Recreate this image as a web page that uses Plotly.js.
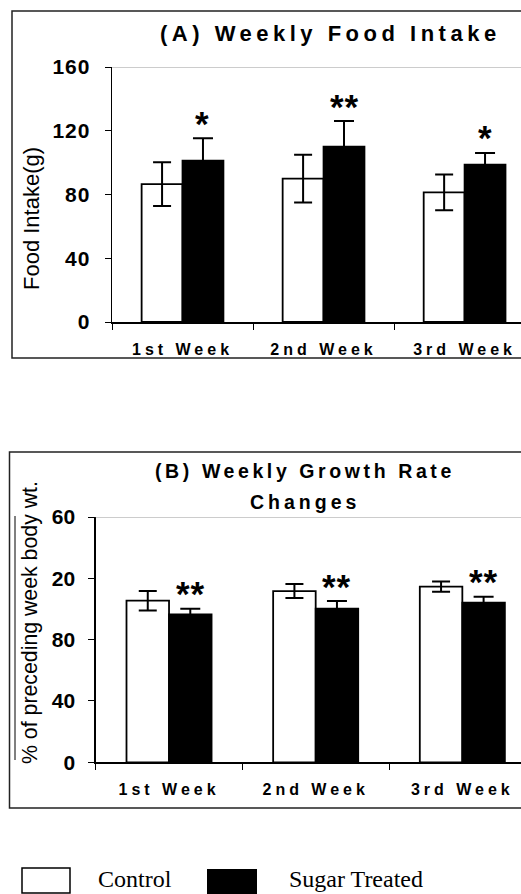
<!DOCTYPE html>
<html>
<head>
<meta charset="utf-8">
<script src="https://cdn.plot.ly/plotly-3.0.1.min.js"></script>
<style>
html,body{margin:0;padding:0;background:#fff;}
#chart{width:521px;height:894px;}
#chart .ytick text{letter-spacing:1px;}
</style>
</head>
<body>
<div id="chart"></div>
<script>
// ---- data ----
const categories = ['1st Week', '2nd Week', '3rd Week'];
const seriesNames = ['Control', 'Sugar Treated'];

const foodControl = [86.5, 90.0, 81.3];
const foodControlErr = [13.7, 15.0, 11.2];
const foodSugar = [101.3, 110.1, 98.8];
const foodSugarErr = [14.0, 16.0, 7.3];
const foodSig = ['*', '**', '*'];

const growthControl = [105.4, 111.7, 114.6];
const growthControlErr = [6.4, 4.6, 3.3];
const growthSugar = [96.5, 100.2, 104.1];
const growthSugarErr = [3.6, 5.0, 3.9];
const growthSig = ['**', '**', '**'];

const yTickVals = [0, 40, 80, 120, 160];
const foodTickText = ['0', '40', '80', '120', '160'];
const growthTickText = ['0', '40', '80', '20', '60'];

const titleA = '(A) Weekly Food Intake';
const titleB1 = '(B) Weekly Growth Rate';
const titleB2 = 'Changes';
const yTitleA = 'Food Intake(g)';
const yTitleB = '% of preceding week body wt.';

// ---- helpers ----
const W = 521, H = 894;
const px = v => v / W;
const py = v => 1 - v / H;
const sp = (t, s) => '<span style="letter-spacing:' + s + 'px">' + t + '</span>';

const BARGAP = 0.42;
const half = (1 - BARGAP) / 4;

const sans = 'Liberation Sans, Arial, sans-serif';
const serif = 'Liberation Serif, Times New Roman, serif';

function barTrace(y, err, fill, xa, ya, name, capw) {
  return {
    type: 'bar', x: categories, y: y, name: name, xaxis: xa, yaxis: ya,
    marker: {color: fill, line: {color: '#000', width: 1.8}},
    error_y: {type: 'data', array: err, visible: true, color: '#000', thickness: 2, width: capw},
    showlegend: false, hoverinfo: 'skip'
  };
}

const data = [
  barTrace(foodControl, foodControlErr, '#fff', 'x', 'y', seriesNames[0], 9),
  barTrace(foodSugar, foodSugarErr, '#000', 'x', 'y', seriesNames[1], 10),
  barTrace(growthControl, growthControlErr, '#fff', 'x2', 'y2', seriesNames[0], 9),
  barTrace(growthSugar, growthSugarErr, '#000', 'x2', 'y2', seriesNames[1], 10)
];

const xTickFont = {family: sans, size: 16, color: '#000', weight: 'bold'};
const yTickFont = {family: sans, size: 21, color: '#000', weight: 'bold'};

function xAxis(domain, anchor) {
  return {
    domain: domain, anchor: anchor, type: 'category', range: [-0.5, 2.4],
    tickmode: 'array', tickvals: categories, ticktext: categories.map(c => sp(c, 4)),
    tickson: 'boundaries', ticks: 'outside', ticklen: 6, tickwidth: 1, tickcolor: '#000',
    ticklabelstandoff: 12,
    showline: true, linecolor: '#000', linewidth: 1.5, showgrid: false, zeroline: false,
    tickfont: xTickFont, fixedrange: true
  };
}
function yAxis(domain, anchor, ticktext) {
  return {
    domain: domain, anchor: anchor, range: [0, 160],
    tickmode: 'array', tickvals: yTickVals,
    ticktext: ticktext.map(t => t + '\u00a0'),
    ticks: 'outside', ticklen: 6, tickwidth: 1, tickcolor: '#000',
    ticklabelstandoff: 3,
    showline: true, linecolor: '#000', linewidth: 1.5, showgrid: false, zeroline: false,
    tickfont: yTickFont, fixedrange: true
  };
}

const annotations = [];
function addText(text, x, y, size, opts) {
  annotations.push(Object.assign({
    text: text, x: x, y: y, xref: 'paper', yref: 'paper', showarrow: false,
    xanchor: 'center', yanchor: 'middle',
    font: {family: sans, size: size, color: '#000'}
  }, opts || {}));
}
// titles
addText(sp(titleA, 4.5), px(330), py(33), 22, {font: {family: sans, size: 22, color: '#000', weight: 'bold'}});
addText(sp(titleB1, 3.6), px(305), py(471), 19.5, {font: {family: sans, size: 19.5, color: '#000', weight: 'bold'}});
addText(sp(titleB2, 4), px(305), py(502), 19.5, {font: {family: sans, size: 19.5, color: '#000', weight: 'bold'}});
// axis titles
addText(yTitleA, px(31), py(219), 22, {textangle: -90});
addText(yTitleB, px(30), py(623), 21.3, {textangle: -90});
// significance marks
function addSig(sig, vals, errs, xref, yref) {
  sig.forEach((s, i) => {
    annotations.push({
      text: sp(s, 1), x: i + half, y: vals[i] + errs[i], xref: xref, yref: yref,
      showarrow: false, xanchor: 'center', yanchor: 'middle', yshift: 15,
      font: {family: sans, size: 35, color: '#000', weight: 'bold'}
    });
  });
}
addSig(foodSig, foodSugar, foodSugarErr, 'x', 'y');
addSig(growthSig, growthSugar, growthSugarErr, 'x2', 'y2');
// legend text
addText(seriesNames[0], px(96), py(879), 24, {xanchor: 'left', font: {family: serif, size: 24, color: '#000'}});
addText(seriesNames[1], px(287), py(879), 24, {xanchor: 'left', font: {family: serif, size: 24, color: '#000'}});

const shapes = [
  // panel frames
  {type: 'rect', xref: 'paper', yref: 'paper', x0: px(12), x1: 1.05, y0: py(358), y1: py(11), line: {color: '#222', width: 1.5}},
  {type: 'rect', xref: 'paper', yref: 'paper', x0: px(9.5), x1: 1.05, y0: py(808), y1: py(452), line: {color: '#222', width: 1.5}},
  // plot-area top edges
  {type: 'line', xref: 'x domain', yref: 'y', x0: 0, x1: 1, y0: 160, y1: 160, line: {color: '#999', width: 1.2}},
  {type: 'line', xref: 'x2 domain', yref: 'y2', x0: 0, x1: 1, y0: 160, y1: 160, line: {color: '#999', width: 1.2}},
  // overline on B axis title
  {type: 'line', xref: 'paper', yref: 'paper', x0: px(15), x1: px(15), y0: py(760), y1: py(516), line: {color: '#000', width: 1}},
  // legend swatches
  {type: 'rect', xref: 'paper', yref: 'paper', x0: px(22), x1: px(70), y0: py(893), y1: py(868), fillcolor: '#fff', line: {color: '#000', width: 1.5}},
  {type: 'rect', xref: 'paper', yref: 'paper', x0: px(207), x1: px(257), y0: py(894), y1: py(869), fillcolor: '#000', line: {color: '#000', width: 0}}
];

const layout = {
  width: W, height: H,
  margin: {l: 0, r: 0, t: 0, b: 0, pad: 0},
  paper_bgcolor: '#fff', plot_bgcolor: '#fff',
  barmode: 'group', bargap: BARGAP, bargroupgap: 0,
  showlegend: false,
  xaxis: xAxis([px(112), 1], 'y'),
  yaxis: yAxis([py(322), py(67)], 'x', foodTickText),
  xaxis2: xAxis([px(95.7), 1], 'y2'),
  yaxis2: yAxis([py(762.3), py(517)], 'x2', growthTickText),
  annotations: annotations,
  shapes: shapes
};

Plotly.newPlot('chart', data, layout, {staticPlot: true, displayModeBar: false});
</script>
</body>
</html>
